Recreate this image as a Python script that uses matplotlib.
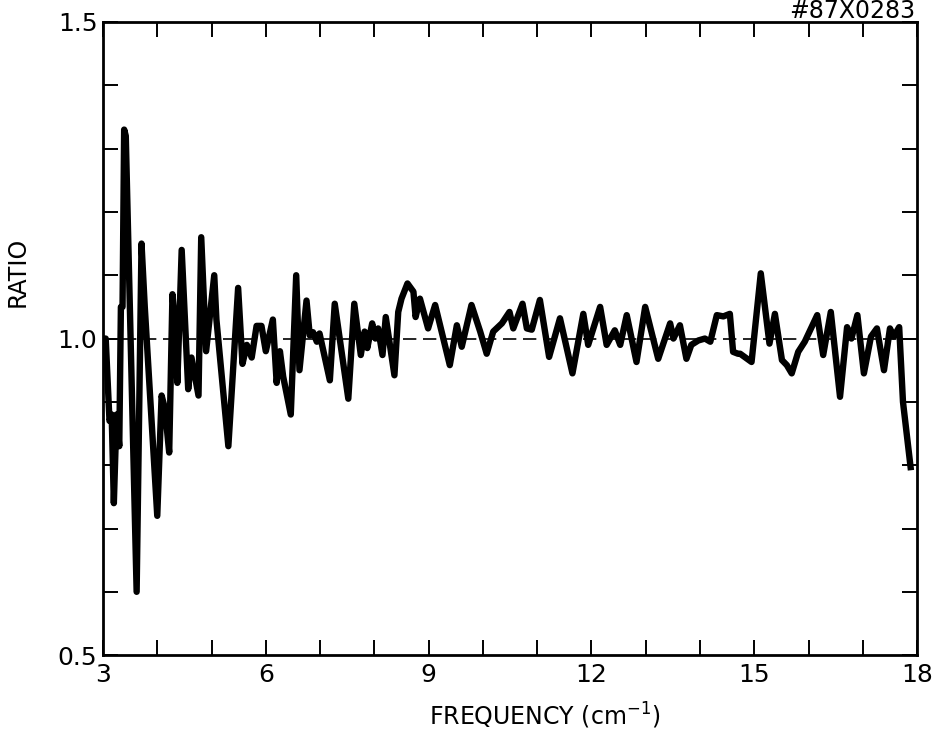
import numpy as np
import matplotlib
matplotlib.use("Agg")
import matplotlib.pyplot as plt

plt.rcParams['font.family'] = 'DejaVu Sans'
plt.rcParams['mathtext.default'] = 'regular'

# ratio curve
freq = [3.00, 3.05, 3.12, 3.16, 3.20, 3.25, 3.30, 3.33, 3.36, 3.39,
        3.42, 3.62, 3.71, 3.77, 4.00, 4.08, 4.14, 4.22, 4.28, 4.32,
        4.37, 4.45, 4.57, 4.63, 4.76, 4.81, 4.90, 5.05, 5.09, 5.31,
        5.49, 5.57, 5.65, 5.74, 5.83, 5.92, 6.00, 6.13, 6.20, 6.26,
        6.32, 6.46, 6.56, 6.62, 6.75, 6.81, 6.87, 6.94, 6.99, 7.18,
        7.27, 7.52, 7.63, 7.75, 7.82, 7.87, 7.96, 8.02, 8.07, 8.15,
        8.21, 8.37, 8.44, 8.50, 8.61, 8.72, 8.76, 8.84, 8.99, 9.12,
        9.39, 9.52, 9.61, 9.79, 9.95, 10.07, 10.19, 10.35, 10.49, 10.56,
        10.73, 10.81, 10.90, 11.05, 11.22, 11.42, 11.65, 11.85, 11.94, 12.16,
        12.28, 12.43, 12.53, 12.65, 12.83, 12.99, 13.23, 13.45, 13.51, 13.63,
        13.75, 13.84, 13.97, 14.09, 14.19, 14.31, 14.43, 14.55, 14.61, 14.70,
        14.74, 14.95, 15.12, 15.28, 15.38, 15.51, 15.60, 15.69, 15.81, 15.93,
        16.16, 16.27, 16.41, 16.58, 16.71, 16.79, 16.90, 17.02, 17.15, 17.26,
        17.39, 17.50, 17.57, 17.67, 17.74, 17.88]
ratio = [1.000, 1.000, 0.870, 0.880, 0.740, 0.880, 0.830, 1.050, 1.050, 1.330,
         1.320, 0.600, 1.150, 1.050, 0.720, 0.910, 0.890, 0.820, 1.070, 1.030,
         0.930, 1.140, 0.920, 0.970, 0.910, 1.160, 0.980, 1.100, 1.030, 0.830,
         1.080, 0.960, 0.990, 0.970, 1.020, 1.020, 0.980, 1.030, 0.930, 0.980,
         0.940, 0.880, 1.100, 0.950, 1.060, 1.005, 1.010, 0.995, 1.008, 0.934,
         1.055, 0.905, 1.055, 0.974, 1.011, 0.985, 1.024, 1.000, 1.016, 0.974,
         1.034, 0.942, 1.042, 1.063, 1.087, 1.074, 1.034, 1.063, 1.016, 1.053,
         0.958, 1.021, 0.987, 1.053, 1.011, 0.976, 1.011, 1.024, 1.042, 1.016,
         1.055, 1.016, 1.014, 1.061, 0.971, 1.032, 0.945, 1.039, 0.990, 1.050,
         0.990, 1.013, 0.990, 1.037, 0.963, 1.050, 0.968, 1.024, 1.000, 1.021,
         0.968, 0.990, 0.997, 1.000, 0.995, 1.037, 1.035, 1.039, 0.979, 0.976,
         0.976, 0.963, 1.103, 0.992, 1.039, 0.966, 0.958, 0.945, 0.979, 0.995,
         1.037, 0.974, 1.042, 0.908, 1.018, 1.000, 1.037, 0.945, 1.003, 1.016,
         0.950, 1.016, 1.003, 1.018, 0.900, 0.797]

xticks = [3, 6, 9, 12, 15, 18]
yticks = [0.5, 1.0, 1.5]

fig = plt.figure(figsize=(9.32, 7.32), dpi=100)
ax = fig.add_axes([0.1105, 0.105, 0.8735, 0.865])

ax.axhline(1.0, color='black', lw=1.2, dashes=(8, 4))
ax.plot(freq, ratio, color='black', lw=4.6, solid_joinstyle='round')

ax.set_xlim(3, 18)
ax.set_ylim(0.5, 1.5)
ax.set_xticks(xticks)
ax.set_xticks(np.arange(3, 19), minor=True)
ax.set_yticks(yticks)
ax.set_yticklabels(['0.5', '1.0', '1.5'])
ax.set_yticks(np.arange(0.5, 1.51, 0.1), minor=True)
ax.tick_params(which='both', direction='in', top=True, right=True,
               length=11, width=1.4, labelsize=18)
ax.tick_params(axis='x', pad=6)
ax.tick_params(axis='y', pad=4)
for s in ax.spines.values():
    s.set_linewidth(2)

ax.set_xlabel('FREQUENCY (cm$^{-1}$)', fontsize=17)
ax.xaxis.set_label_coords(0.543, -0.072)
ax.set_ylabel('RATIO', fontsize=17)
ax.yaxis.set_label_coords(-0.09, 0.605)

fig.text(0.982, 1 - 18 / 732, '#87X0283', ha='right', va='baseline', fontsize=17)

fig.savefig('out.png', dpi=100)
